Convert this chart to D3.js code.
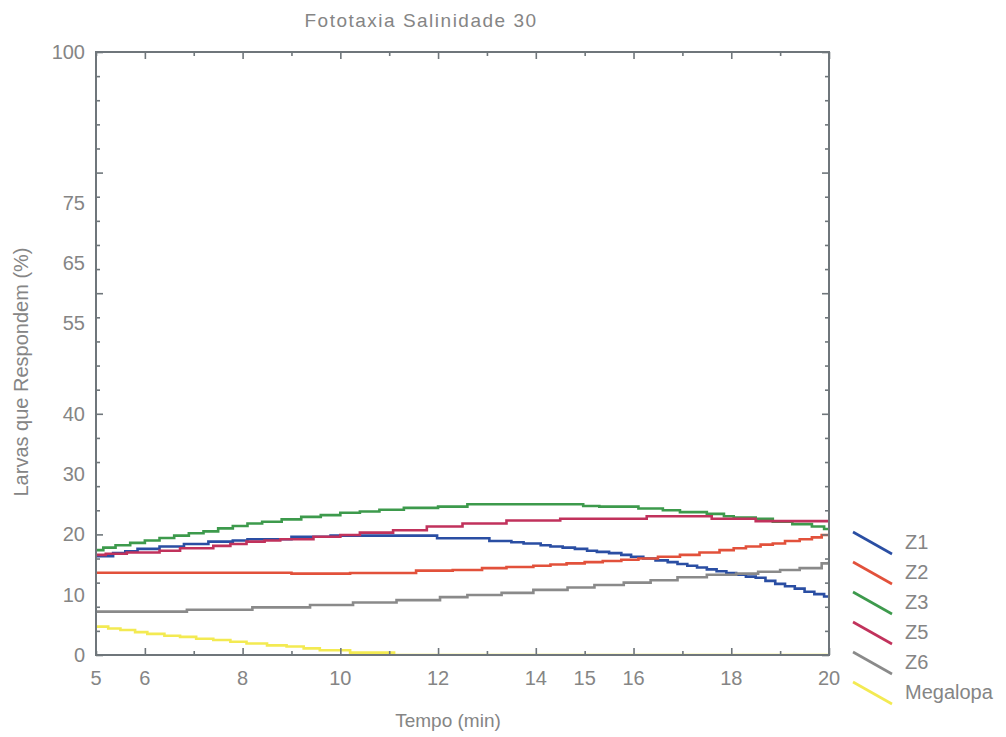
<!DOCTYPE html>
<html><head><meta charset="utf-8">
<script src="https://cdn.jsdelivr.net/npm/d3@7"></script>
<style>
html,body{margin:0;padding:0;background:#fff;}
svg text{font-family:"Liberation Sans",Arial,sans-serif;fill:#858585;}
</style></head>
<body><svg id="c" width="1006" height="737"></svg>
<script>
// ---- data ----
const seriesNames = ["Z1","Z2","Z3","Z5","Z6","Megalopa"];
const seriesColors = ["#2a4ea3","#e2513b","#3d9a4c","#c1325c","#8a8a8a","#f3ea52"];
const xTickValues = [5,6,8,10,12,14,15,16,18,20];
const yTickLabels = [0,10,20,30,40,55,65,75,100];

const z1Time = [5,5.35,5.6,5.85,6.3,6.8,7.3,7.8,8.1,9.0,9.8,11.98,13.05,13.5,13.75,14.1,14.3,14.55,14.8,15.05,15.25,15.5,15.75,15.95,16.2,16.45,16.7,16.9,17.1,17.3,17.5,17.7,17.9,18.1,18.3,18.5,18.7,18.9,19.1,19.3,19.5,19.7,19.9,20];
const z1Value = [16.4,16.9,17.2,17.6,18.0,18.4,18.8,19.0,19.2,19.6,19.8,19.35,18.9,18.7,18.5,18.2,18.0,17.8,17.6,17.3,17.1,16.9,16.6,16.3,16.0,15.7,15.4,15.1,14.8,14.5,14.2,13.9,13.6,13.3,13.0,12.8,12.3,11.8,11.4,11.0,10.5,10.1,9.7,9.6];

const z2Time = [5,9.0,10.2,11.55,12.3,12.9,13.4,13.95,14.3,14.63,15.0,15.37,15.75,16.1,16.5,16.95,17.35,17.76,18.05,18.3,18.6,18.85,19.1,19.4,19.65,19.85,20];
const z2Value = [13.65,13.5,13.6,14.0,14.1,14.4,14.6,14.8,15.0,15.2,15.4,15.6,15.8,16.0,16.3,16.6,17.0,17.4,17.7,18.0,18.3,18.5,18.9,19.2,19.5,19.9,20.1];

const z3Time = [5,5.15,5.4,5.7,6.0,6.3,6.6,6.9,7.2,7.5,7.8,8.1,8.4,8.8,9.2,9.6,10.0,10.4,10.8,11.3,12.0,12.6,14.97,15.3,16.1,16.6,16.95,17.5,17.85,18.05,18.5,18.85,19.25,19.65,19.9,20];
const z3Value = [17.4,17.8,18.2,18.6,19.0,19.4,19.8,20.2,20.5,21.0,21.4,21.8,22.1,22.5,22.9,23.2,23.6,23.8,24.1,24.4,24.6,25.0,24.7,24.6,24.3,24.0,23.7,23.4,23.0,22.8,22.6,22.1,21.7,21.3,20.9,20.8];

const z5Time = [5,5.2,5.63,6.3,6.72,7.4,7.75,8.08,8.45,8.77,9.45,10.0,10.4,11.08,11.77,12.5,13.4,14.5,16.27,17.6,18.5,20];
const z5Value = [16.6,16.8,17.0,17.3,17.7,18.1,18.4,18.8,19.0,19.2,19.6,19.9,20.3,20.7,21.3,21.8,22.3,22.6,23.0,22.6,22.2,22.1];

const z6Time = [5,6.86,8.2,9.38,10.26,11.15,12.04,12.6,13.3,13.95,14.65,15.2,15.8,16.35,16.9,17.5,18.1,18.55,19.0,19.4,19.85,20];
const z6Value = [7.2,7.5,7.9,8.3,8.7,9.1,9.6,9.95,10.3,10.8,11.2,11.6,12.0,12.4,12.9,13.3,13.5,13.8,14.1,14.4,15.2,15.5];

const megTime = [5,5.25,5.5,5.8,6.05,6.4,6.72,7.05,7.4,7.75,8.08,8.5,8.9,9.25,9.58,10.2,11.1,20];
const megValue = [4.7,4.4,4.15,3.8,3.5,3.2,3.0,2.7,2.5,2.2,1.9,1.6,1.4,1.1,0.8,0.4,0,0];

const seriesTimes = [z1Time,z2Time,z3Time,z5Time,z6Time,megTime];
const seriesValues = [z1Value,z2Value,z3Value,z5Value,z6Value,megValue];

// ---- layout ----
const L = 96, R = 829, T = 52, B = 655;
const axisColor = "#6f767b";
const svg = d3.select("#c");
const x = d3.scaleLinear().domain([5,20]).range([L,R]);
const y = d3.scaleLinear().domain([0,100]).range([B,T]);

svg.append("defs").append("clipPath").attr("id","clip")
  .append("rect").attr("x",L).attr("y",T-2).attr("width",R-L).attr("height",B-T+2);

// lines
const line = d3.line().x(d=>x(d[0])).y(d=>y(d[1])).curve(d3.curveStepAfter);
const gl = svg.append("g").attr("clip-path","url(#clip)");
seriesNames.forEach((n,i)=>{
  const pts = seriesTimes[i].map((t,j)=>[t, seriesValues[i][j]]);
  gl.append("path").datum(pts).attr("d",line)
    .attr("fill","none").attr("stroke",seriesColors[i]).attr("stroke-width",2.6);
});

// axes (ticks inward)
function tickSet(g, axis){ g.call(axis); g.select(".domain").remove(); g.selectAll("line").attr("stroke",axisColor).attr("stroke-width",1.6); }
const xMinor = d3.range(5,21,1);
const yMinor = d3.range(0,101,4);
svg.append("g").attr("transform",`translate(0,${B})`)
  .call(g=>tickSet(g, d3.axisTop(x).tickValues(xMinor).tickSizeOuter(0).tickFormat("")))
  .selectAll(".tick line").attr("y2",d=>d%2===0?-7:-4);
svg.append("g").attr("transform",`translate(0,${T})`)
  .call(g=>tickSet(g, d3.axisBottom(x).tickValues(xMinor).tickSizeOuter(0).tickFormat("")))
  .selectAll(".tick line").attr("y2",d=>d%2===0?7:4);
svg.append("g").attr("transform",`translate(${L},0)`)
  .call(g=>tickSet(g, d3.axisRight(y).tickValues(yMinor).tickSizeOuter(0).tickFormat("")))
  .selectAll(".tick line").attr("x2",d=>d%20===0?7:4);
svg.append("g").attr("transform",`translate(${R},0)`)
  .call(g=>tickSet(g, d3.axisLeft(y).tickValues(yMinor).tickSizeOuter(0).tickFormat("")))
  .selectAll(".tick line").attr("x2",d=>d%20===0?-7:-4);

// frame
svg.append("rect").attr("x",L).attr("y",T).attr("width",R-L).attr("height",B-T)
  .attr("fill","none").attr("stroke",axisColor).attr("stroke-width",2);

// tick labels
svg.append("g").selectAll("text").data(xTickValues).join("text")
  .attr("x",d=>x(d)).attr("y",B+30).attr("text-anchor","middle")
  .attr("font-size",20).text(d=>d);
svg.append("g").selectAll("text").data(yTickLabels).join("text")
  .attr("x",L-11).attr("y",d=>y(d)+7).attr("text-anchor","end")
  .attr("font-size",20).text(d=>d);

// titles
svg.append("text").attr("x",421).attr("y",27).attr("text-anchor","middle")
  .attr("font-size",19).attr("letter-spacing","1.5px").text("Fototaxia Salinidade 30");
svg.append("text").attr("x",448).attr("y",727).attr("text-anchor","middle")
  .attr("font-size",19).text("Tempo (min)");
svg.append("text").attr("transform","translate(28,372) rotate(-90)").attr("text-anchor","middle")
  .attr("font-size",20).text("Larvas que Respondem (%)");

// legend
const lg = svg.append("g");
seriesNames.forEach((n,i)=>{
  const yy = 532 + i*30;
  lg.append("line").attr("x1",853).attr("y1",yy).attr("x2",892).attr("y2",yy+22)
    .attr("stroke",seriesColors[i]).attr("stroke-width",2.6);
  lg.append("text").attr("x",905).attr("y",yy+17).attr("font-size",20).text(n);
});
</script></body></html>
